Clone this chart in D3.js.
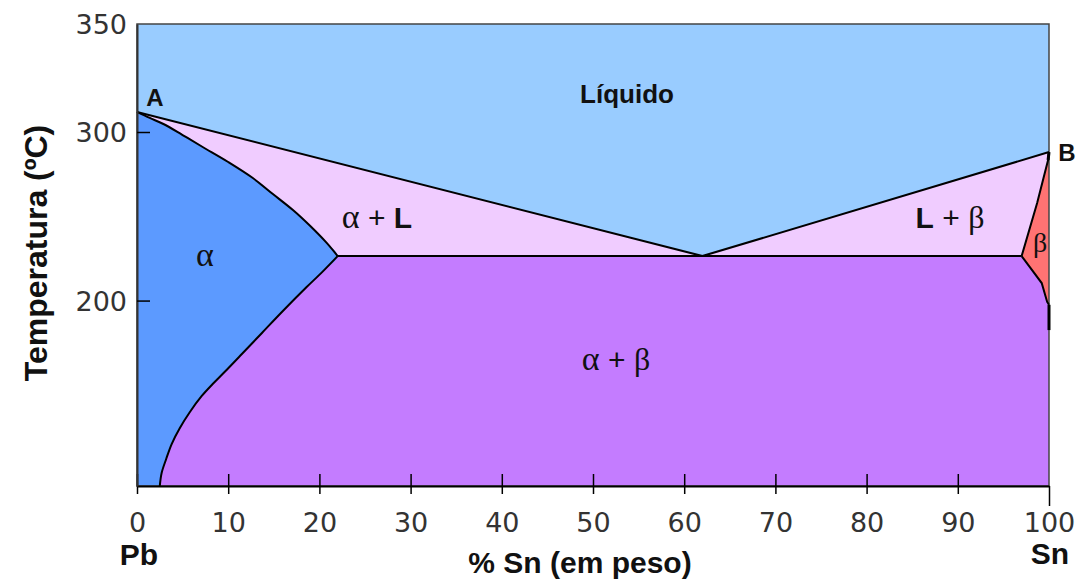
<!DOCTYPE html>
<html>
<head>
<meta charset="utf-8">
<script src="https://cdn.jsdelivr.net/npm/d3@7"></script>
<style>
  body { margin: 0; background: #fff; }
  svg { display: block; }
</style>
</head>
<body>
<div id="chart"></div>
<script>
// tick values
var xTicks = [0, 10, 20, 30, 40, 50, 60, 70, 80, 90, 100];
var yTicks = [200, 300, 350];

// phase boundaries, [% Sn, temperature]
var liquidus = [[0, 309.3], [62.0, 226.4], [100, 288.1]];
var solidusLeft = [[0, 309.3], [1.4, 306.5], [2.9, 303.7], [5.0, 298.2], [7.2, 291.1], [10.0, 282.2],
  [12.7, 272.7], [14.9, 263.2], [17.1, 253.7], [19.0, 244.2], [20.8, 234.2], [22.0, 226.4]];
var solvusLeft = [[22.0, 226.4], [20.3, 216.9], [18.6, 208.0], [16.1, 194.4], [13.7, 180.8], [11.5, 168.3],
  [9.6, 157.6], [8.3, 150.5], [7.1, 143.4], [5.8, 133.9], [4.7, 124.4], [3.8, 114.9], [3.2, 106.0],
  [2.7, 97.7], [2.5, 90]];
var eutectic = [[22.0, 226.4], [97.0, 226.4]];
var solidusRight = [[100, 288.1], [99.9, 283.4], [98.7, 257.9], [97.0, 226.4]];
var solvusRight = [[97.0, 226.4], [97.9, 219.9], [99.2, 210.4], [99.8, 199.2], [100, 197.5]];
var solvusEdge = [[100, 197.5], [100, 182.5]];

var width = 1090, height = 583;
var margin = {top: 24, right: 41, bottom: 97, left: 137};

var svg = d3.select("#chart")
  .append("svg")
  .attr("width", width)
  .attr("height", height);

var x = d3.scaleLinear()
  .domain([0, 100])
  .range([margin.left, width - margin.right]);

// the drawing is not linear in temperature above 300
var y = d3.scaleLinear()
  .domain([90, 300, 350])
  .range([height - margin.bottom, 132, margin.top]);

var line = d3.line()
  .x(function(d) { return x(d[0]); })
  .y(function(d) { return y(d[1]); });

var curve = d3.line()
  .curve(d3.curveCatmullRom)
  .x(function(d) { return x(d[0]); })
  .y(function(d) { return y(d[1]); });

var colors = {
  liquid: "#99ccff",
  alpha: "#5c9aff",
  twoPhase: "#f0ccff",
  alphaBeta: "#c47cff",
  beta: "#ff7373"
};

// regions
var regions = [
  { fill: colors.alphaBeta, pts: [[0, 90], [0, 350], [100, 350], [100, 90]] },
  { fill: colors.liquid, pts: [[0, 350], [100, 350]].concat(liquidus.slice().reverse()) },
  { fill: colors.twoPhase, pts: liquidus.slice(0, 2).concat([eutectic[0]], solidusLeft.slice(1, -1).reverse()) },
  { fill: colors.twoPhase, pts: liquidus.slice(1).concat(solidusRight.slice(1)) },
  { fill: colors.beta, pts: solidusRight.concat(solvusRight.slice(1)) }
];

svg.selectAll("path.region")
  .data(regions)
  .enter()
  .append("path")
  .attr("class", "region")
  .attr("fill", function(d) { return d.fill; })
  .attr("d", function(d) { return line(d.pts) + "Z"; });

// alpha region follows the smooth curves
svg.append("path")
  .attr("d", curve(solidusLeft.concat(solvusLeft.slice(1))) + "L" + x(0) + "," + y(90) + "Z")
  .attr("fill", colors.alpha);

// frame
svg.append("rect")
  .attr("x", x(0))
  .attr("y", y(350))
  .attr("width", x(100) - x(0))
  .attr("height", y(90) - y(350))
  .attr("fill", "none")
  .attr("stroke", "#444")
  .attr("stroke-width", 1.5);

// boundary lines
[liquidus, eutectic, solidusRight, solvusRight].forEach(function(b) {
  svg.append("path")
    .attr("d", line(b))
    .attr("fill", "none")
    .attr("stroke", "#000")
    .attr("stroke-width", 2);
});
[solidusLeft, solvusLeft].forEach(function(b) {
  svg.append("path")
    .attr("d", curve(b))
    .attr("fill", "none")
    .attr("stroke", "#000")
    .attr("stroke-width", 2);
});
svg.append("path")
  .attr("d", line(solvusEdge))
  .attr("fill", "none")
  .attr("stroke", "#000")
  .attr("stroke-width", 3);
svg.append("path")
  .attr("d", line(solidusRight.slice(0, 2)))
  .attr("fill", "none")
  .attr("stroke", "#000")
  .attr("stroke-width", 3);

// X axis
var xAxis = svg.append("g")
  .attr("transform", "translate(0," + y(90) + ")")
  .call(d3.axisBottom(x).tickValues(xTicks).tickSizeInner(8).tickSizeOuter(0));
xAxis.select(".domain").attr("stroke", "#000").attr("stroke-width", 2);
xAxis.selectAll(".tick line").attr("y1", -12).attr("stroke-width", 1.5);
xAxis.selectAll(".tick line").filter(function(d) { return d === 100; }).attr("y1", 0).attr("y2", 20);
xAxis.selectAll("text")
  .attr("y", 46)
  .attr("dy", null)
  .attr("fill", "#333")
  .style("font-family", "DejaVu Sans, sans-serif")
  .style("font-size", "27px");

// Y axis
var yAxis = svg.append("g")
  .attr("transform", "translate(" + x(0) + ",0)")
  .call(d3.axisLeft(y).tickValues(yTicks).tickSizeInner(7).tickSizeOuter(0).tickPadding(3));
yAxis.select(".domain").attr("stroke", "#333").attr("stroke-width", 2);
yAxis.selectAll(".tick line").attr("x2", 13).attr("stroke-width", 1.5);
yAxis.selectAll(".tick line").filter(function(d) { return d === 350; }).attr("x2", 0);
yAxis.selectAll("text")
  .attr("dy", "0.36em")
  .attr("fill", "#333")
  .style("font-family", "DejaVu Sans, sans-serif")
  .style("font-size", "27px");

// text labels
var sans = "Liberation Sans, Arial, sans-serif";
var serif = "Liberation Serif, Times New Roman, serif";

function label(px, py, size, weight, str) {
  return svg.append("text")
    .attr("x", px).attr("y", py)
    .attr("text-anchor", "middle")
    .style("font-family", sans)
    .style("font-size", size + "px")
    .style("font-weight", weight)
    .attr("fill", "#111")
    .text(str);
}

label(x(0) + 2, 565, 30, "bold", "Pb");
label(x(100) + 1, 564, 30, "bold", "Sn");
label(580, 573, 30, "bold", "% Sn (em peso)");
label(155, 106, 24, "bold", "A");
label(1067, 161, 24, "bold", "B");
label(627, 103, 26, "bold", "Líquido");

svg.append("text")
  .attr("transform", "translate(47,253) rotate(-90)")
  .attr("text-anchor", "middle")
  .style("font-family", sans)
  .style("font-size", "32px")
  .style("font-weight", "bold")
  .attr("fill", "#111")
  .text("Temperatura (ºC)");

// phase labels, greek in serif
function phase(px, py, parts) {
  var t = svg.append("text")
    .attr("x", px).attr("y", py)
    .attr("text-anchor", "middle")
    .attr("fill", "#111");
  parts.forEach(function(p) {
    t.append("tspan")
      .style("font-family", p.f === "serif" ? serif : sans)
      .style("font-weight", p.b ? "bold" : "normal")
      .style("font-size", p.s + "px")
      .text(p.t);
  });
}

phase(205, 266, [{t: "α", f: "serif", s: 34}]);
phase(377, 228, [{t: "α", f: "serif", s: 34}, {t: " + ", f: "sans", s: 30}, {t: "L", f: "sans", b: true, s: 30}]);
phase(950, 228, [{t: "L", f: "sans", b: true, s: 30}, {t: " + ", f: "sans", s: 30}, {t: "β", f: "serif", s: 32}]);
phase(616, 370, [{t: "α", f: "serif", s: 34}, {t: " + ", f: "sans", s: 30}, {t: "β", f: "serif", s: 32}]);
phase(1040, 252, [{t: "β", f: "serif", s: 28}]);
</script>
</body>
</html>
